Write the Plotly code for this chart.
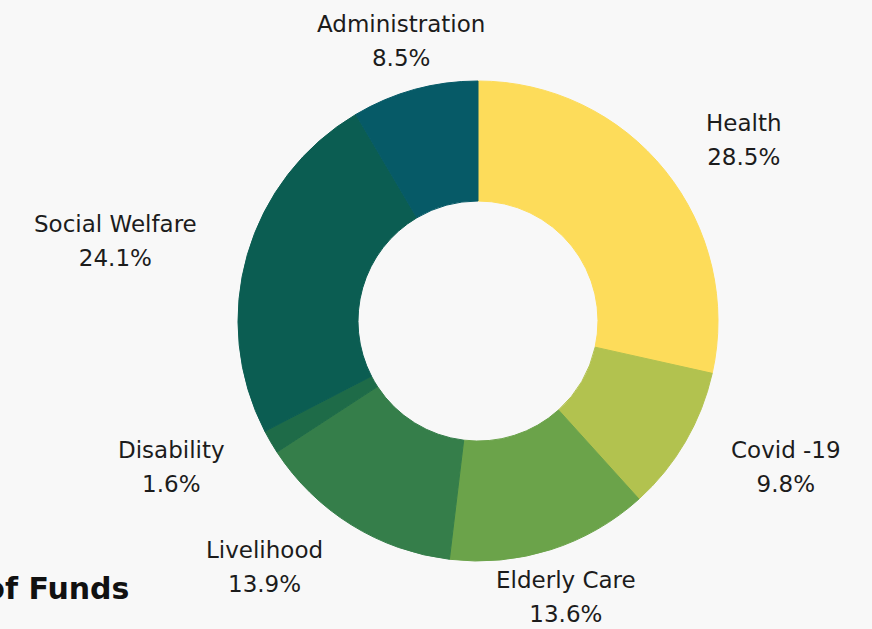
import math
import plotly.graph_objects as go

categories = ["Health", "Covid -19", "Elderly Care", "Livelihood", "Disability", "Social Welfare", "Administration"]
shares = [28.5, 9.8, 13.6, 13.9, 1.6, 24.1, 8.5]
colors = ["#FDDC5A", "#B2C24F", "#6BA34A", "#357E4A", "#1E6B48", "#0B5D52", "#065A67"]
title_text = "Utilization of Funds"

W, H = 872, 629
CX, CY, R = 478, 321, 240        # pie centre / radius in pixels
LABEL_R = 290                    # label anchor distance from centre
BG = "#F8F8F8"
FONT = "DejaVu Sans"
LABEL_SIZE = 23
LINE_SIZE = 26                   # sets the spacing between the two label lines

fig = go.Figure(go.Pie(
    labels=categories,
    values=shares,
    hole=0.5,
    sort=False,
    direction="clockwise",
    rotation=0,
    marker=dict(colors=colors, line=dict(width=1, color=colors)),
    textinfo="none",
    domain=dict(x=[(CX - R) / W, (CX + R) / W], y=[(H - CY - R) / H, (H - CY + R) / H]),
    showlegend=False,
))

total = sum(shares)
cum = 0.0
annotations = []
for name, v in zip(categories, shares):
    mid = (cum + v / 2) / total * 2 * math.pi
    cum += v
    s, c = math.sin(mid), math.cos(mid)
    px = CX + LABEL_R * s
    py = CY - LABEL_R * c
    xa = "left" if s > 0.4 else ("right" if s < -0.4 else "center")
    span = f"<span style='font-size:{LABEL_SIZE}px'>"
    annotations.append(dict(
        x=px / W, y=(H - py) / H, xref="paper", yref="paper",
        text=f"{span}{name}</span><br>{span}{v:.1f}%</span>",
        showarrow=False, xanchor=xa, yanchor="middle", align="center",
        font=dict(family=FONT, size=LINE_SIZE, color="#1c1c1c"),
    ))

annotations.append(dict(
    x=131 / W, y=(H - 588) / H, xref="paper", yref="paper",
    text=f"<b>{title_text}</b>", showarrow=False, xanchor="right", yanchor="middle",
    font=dict(family=FONT, size=30, color="#111111"),
))

fig.update_layout(
    width=W, height=H,
    margin=dict(l=0, r=0, t=0, b=0),
    paper_bgcolor=BG, plot_bgcolor=BG,
    annotations=annotations,
)

fig.write_html("out.html")
